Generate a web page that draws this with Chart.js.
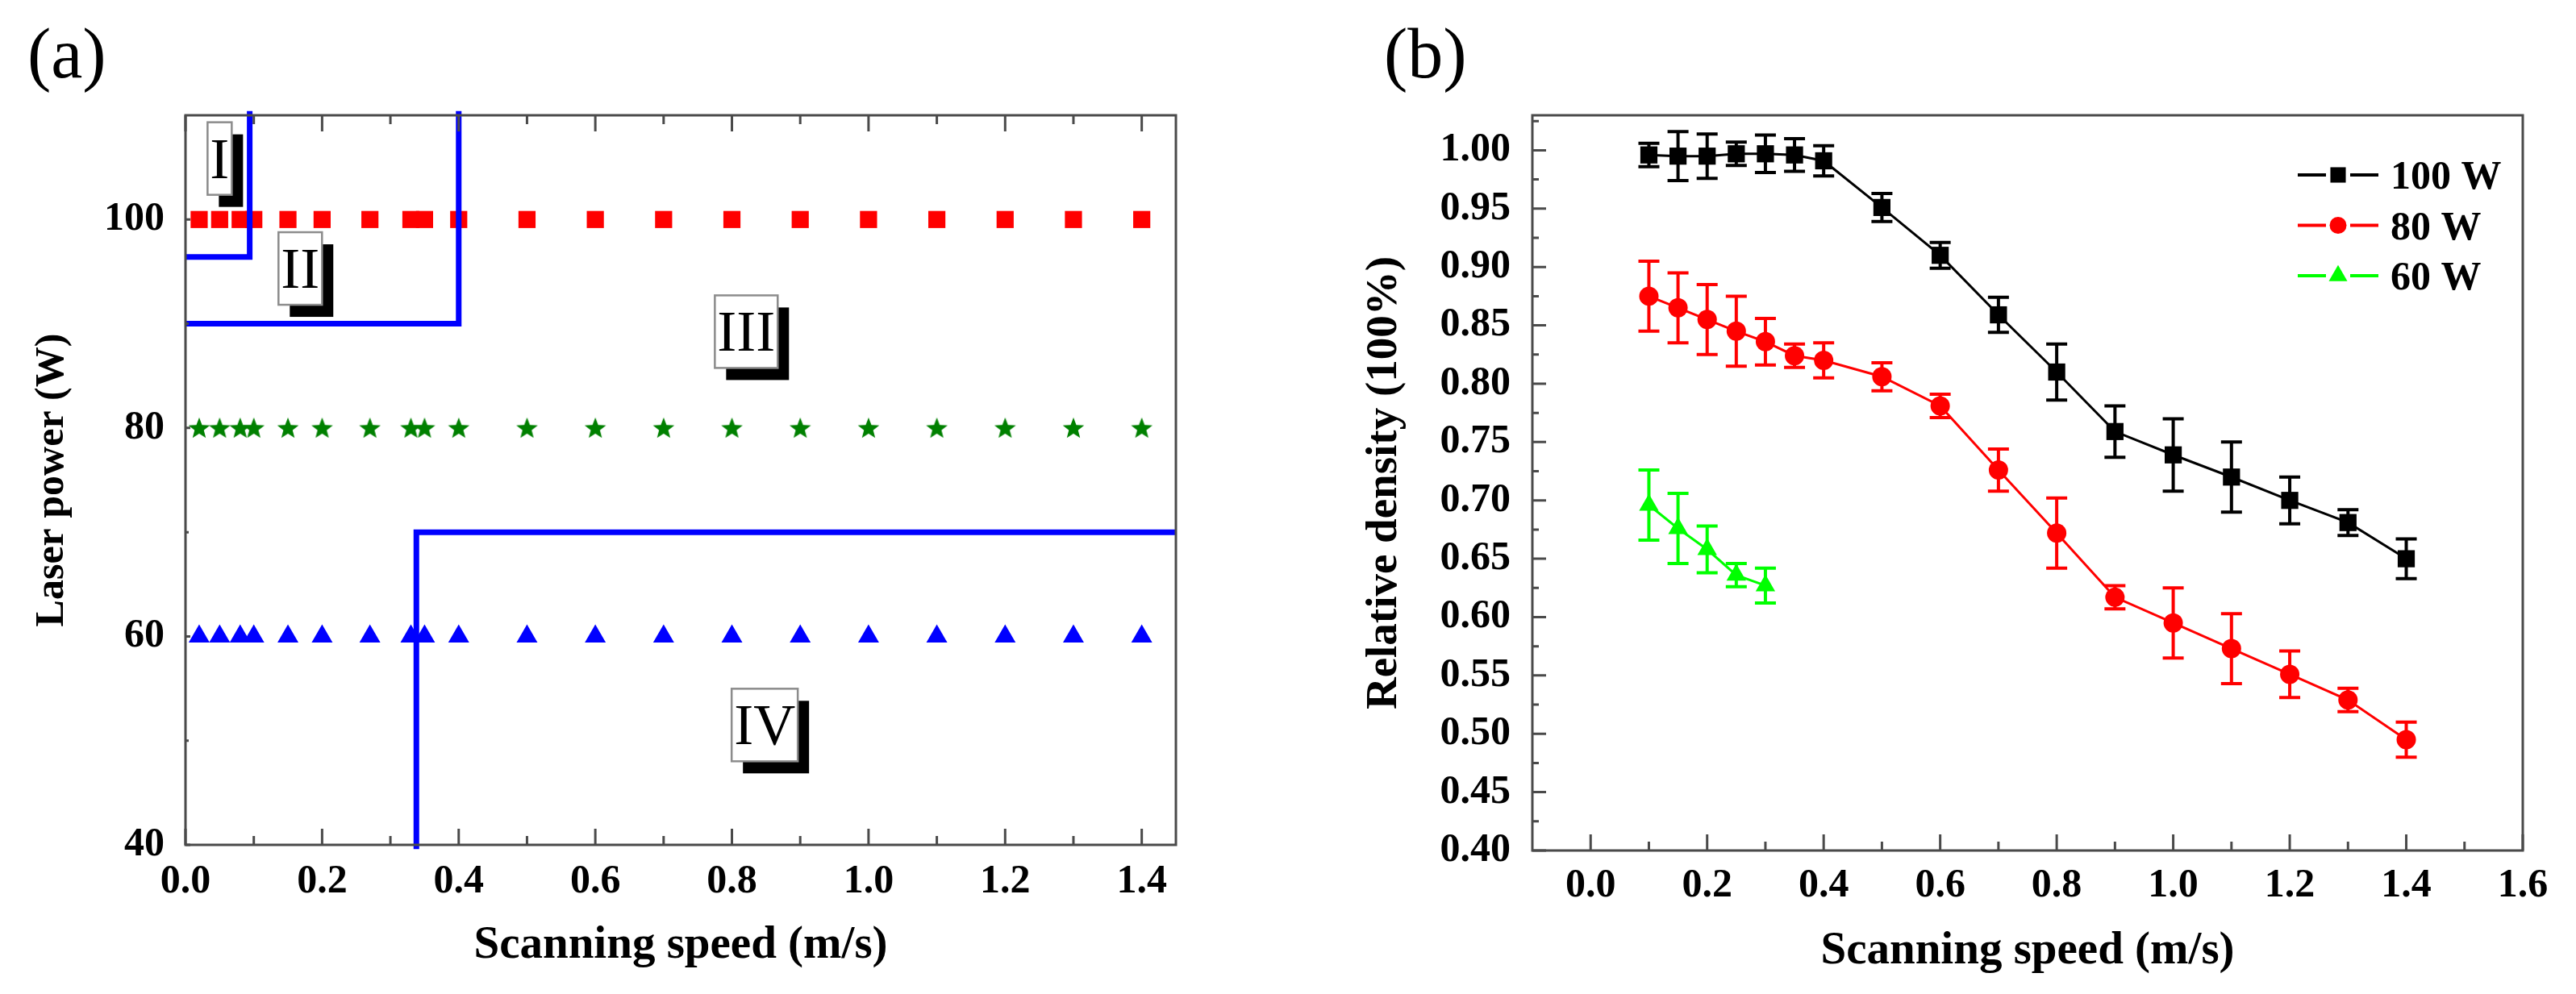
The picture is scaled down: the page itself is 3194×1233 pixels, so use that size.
<!DOCTYPE html>
<html>
<head>
<meta charset="utf-8">
<title>Laser power / relative density vs scanning speed</title>
<script src="https://cdn.jsdelivr.net/npm/chart.js@4.4.1/dist/chart.umd.min.js"></script>
<style>
  html, body { margin: 0; padding: 0; background: #fff; }
  #page { position: relative; width: 3194px; height: 1233px; overflow: hidden; }
  .panel { position: absolute; top: 0; height: 1233px; }
  .tag { position: absolute; font-family: 'Liberation Serif', 'Times New Roman', serif; font-size: 88px; line-height: 1; color: #000; }
</style>
</head>
<body>
<div id="page">
  <div class="panel" style="left:0;width:1580px"><canvas id="chartA" width="1580" height="1233"></canvas></div>
  <div class="panel" style="left:1580px;width:1614px"><canvas id="chartB" width="1614" height="1233"></canvas></div>
  <div class="tag" style="left:34px;top:23px">(a)</div>
  <div class="tag" style="left:1716px;top:23px">(b)</div>
</div>
<script>
// ---- panel (a): process map ----
const speedsA = [0.02, 0.05, 0.08, 0.1, 0.15, 0.2, 0.27, 0.33, 0.35, 0.4, 0.5, 0.6, 0.7, 0.8, 0.9, 1.0, 1.1, 1.2, 1.3, 1.4];
const powersA = [100, 80, 60];
const boundaryIX = [0, 0.094, 0.094];
const boundaryIY = [96.4, 96.4, 110.4];
const boundaryIIX = [0, 0.4, 0.4];
const boundaryIIY = [90, 90, 110.4];
const boundaryIVX = [1.45, 0.338, 0.338];
const boundaryIVY = [70, 70, 39.6];
const regionNames = ['I', 'II', 'III', 'IV'];
const regionX = [0.050, 0.168, 0.821, 0.848];
const regionY = [105.85, 95.3, 89.24, 51.5];
const xTicksA = [0, 0.2, 0.4, 0.6, 0.8, 1.0, 1.2, 1.4];
const yTicksA = [40, 60, 80, 100];

// ---- panel (b): relative density ----
const speedsB = [0.1, 0.15, 0.2, 0.25, 0.3, 0.35, 0.4, 0.5, 0.6, 0.7, 0.8, 0.9, 1.0, 1.1, 1.2, 1.3, 1.4];
const density100 = [0.996, 0.995, 0.995, 0.997, 0.997, 0.996, 0.991, 0.951, 0.910, 0.859, 0.810, 0.759, 0.739, 0.720, 0.700, 0.681, 0.650];
const error100 = [0.010, 0.021, 0.019, 0.010, 0.016, 0.014, 0.013, 0.012, 0.011, 0.015, 0.024, 0.022, 0.031, 0.030, 0.020, 0.011, 0.017];
const density80 = [0.875, 0.865, 0.855, 0.845, 0.836, 0.824, 0.820, 0.806, 0.781, 0.726, 0.672, 0.617, 0.595, 0.573, 0.551, 0.529, 0.495];
const error80 = [0.030, 0.030, 0.030, 0.030, 0.020, 0.010, 0.015, 0.012, 0.010, 0.018, 0.030, 0.010, 0.030, 0.030, 0.020, 0.010, 0.015];
const speeds60 = [0.1, 0.15, 0.2, 0.25, 0.3];
const density60 = [0.696, 0.676, 0.658, 0.636, 0.627];
const error60 = [0.030, 0.030, 0.020, 0.010, 0.015];
const xTicksB = [0, 0.2, 0.4, 0.6, 0.8, 1.0, 1.2, 1.4, 1.6];
const yTicksB = [0.40, 0.45, 0.50, 0.55, 0.60, 0.65, 0.70, 0.75, 0.80, 0.85, 0.90, 0.95, 1.00];

const serif = "'Liberation Serif', 'Times New Roman', serif";
const tickFont = { family: serif, size: 50, weight: 'bold' };
const xTitleFont = { family: serif, size: 57, weight: 'bold' };

function toPoints(xs, ys) {
  return xs.map((x, i) => ({ x: x, y: ys[i] }));
}

// minor ticks halfway between majors, plus one past the end if still on the axis
function minorsOf(majors, max) {
  const out = [];
  for (let i = 0; i < majors.length - 1; i++) out.push((majors[i] + majors[i + 1]) / 2);
  const step = majors[1] - majors[0];
  const extra = majors[majors.length - 1] + step / 2;
  if (extra < max - 1e-9) out.push(extra);
  return out;
}

function starImage(color, outer, inner) {
  const c = document.createElement('canvas');
  c.width = c.height = Math.ceil(outer * 2 + 2);
  const g = c.getContext('2d');
  const m = c.width / 2;
  g.fillStyle = color;
  g.beginPath();
  for (let k = 0; k < 10; k++) {
    const r = k % 2 ? inner : outer;
    const ang = -Math.PI / 2 + k * Math.PI / 5;
    g.lineTo(m + r * Math.cos(ang), m + 1 + r * Math.sin(ang));
  }
  g.closePath();
  g.fill();
  return c;
}

function drawMarker(ctx, style, x, y, r, color) {
  ctx.save();
  ctx.fillStyle = color;
  ctx.beginPath();
  if (style === 'rect') {
    const s = r * Math.SQRT1_2;
    ctx.rect(x - s, y - s, 2 * s, 2 * s);
  } else if (style === 'circle') {
    ctx.arc(x, y, r, 0, Math.PI * 2);
  } else {
    for (let k = 0; k < 3; k++) {
      const a = k * 2 * Math.PI / 3;
      ctx.lineTo(x + Math.sin(a) * r, y - Math.cos(a) * r);
    }
    ctx.closePath();
  }
  ctx.fill();
  ctx.restore();
}

// box frame + inward tick marks
const frameTicks = {
  id: 'frameTicks',
  afterDatasetsDraw(chart, args, o) {
    const { ctx, chartArea: a, scales: { x, y } } = chart;
    ctx.save();
    ctx.strokeStyle = '#4a4a4a';
    ctx.lineWidth = 3;
    ctx.beginPath();
    const xt = (vals, len) => vals.forEach(v => {
      const px = x.getPixelForValue(v);
      ctx.moveTo(px, a.bottom); ctx.lineTo(px, a.bottom - len);
      if (o.mirrorX) { ctx.moveTo(px, a.top); ctx.lineTo(px, a.top + len); }
    });
    const yt = (vals, len) => vals.forEach(v => {
      const py = y.getPixelForValue(v);
      ctx.moveTo(a.left, py); ctx.lineTo(a.left + len, py);
    });
    xt(o.xMajor, o.xLen[0]);
    xt(minorsOf(o.xMajor, x.max), o.xLen[1]);
    yt(o.yMajor, o.yLen[0]);
    yt(minorsOf(o.yMajor, y.max), o.yLen[1]);
    ctx.stroke();
    ctx.strokeRect(a.left, a.top, a.right - a.left, a.bottom - a.top);
    ctx.restore();
  }
};

// boxed roman numerals with drop shadow (panel a)
const regionBoxes = {
  id: 'regionBoxes',
  afterDatasetsDraw(chart) {
    const { ctx, scales: { x, y } } = chart;
    ctx.save();
    ctx.font = '72px ' + serif;
    regionNames.forEach((name, i) => {
      const cx = x.getPixelForValue(regionX[i]);
      const cy = y.getPixelForValue(regionY[i]);
      const w = ctx.measureText(name).width + 6;
      const h = 90;
      const l = cx - w / 2, t = cy - h / 2;
      ctx.fillStyle = '#000';
      ctx.fillRect(l + 14, t + 15, w, h);
      ctx.fillStyle = '#fff';
      ctx.fillRect(l, t, w, h);
      ctx.strokeStyle = '#8c8c8c';
      ctx.lineWidth = 2.5;
      ctx.strokeRect(l, t, w, h);
      ctx.fillStyle = '#000';
      ctx.textAlign = 'center';
      ctx.textBaseline = 'alphabetic';
      ctx.fillText(name, cx, cy + 24);
    });
    ctx.restore();
  }
};

// vertical error bars (panel b)
const errorBars = {
  id: 'errorBars',
  beforeDatasetsDraw(chart) {
    const { ctx, scales: { x, y } } = chart;
    chart.data.datasets.forEach(ds => {
      if (!ds.errors) return;
      ctx.save();
      ctx.strokeStyle = ds.borderColor;
      ctx.lineWidth = 4;
      ctx.beginPath();
      ds.data.forEach((p, j) => {
        const px = x.getPixelForValue(p.x);
        const top = y.getPixelForValue(p.y + ds.errors[j]);
        const bot = y.getPixelForValue(p.y - ds.errors[j]);
        ctx.moveTo(px, top); ctx.lineTo(px, bot);
        ctx.moveTo(px - 13, top); ctx.lineTo(px + 13, top);
        ctx.moveTo(px - 13, bot); ctx.lineTo(px + 13, bot);
      });
      ctx.stroke();
      ctx.restore();
    });
  }
};

// legend inside the plot, top right (panel b)
const insetLegend = {
  id: 'insetLegend',
  afterDraw(chart, args, o) {
    const { ctx, chartArea: a } = chart;
    chart.data.datasets.forEach((ds, i) => {
      const yc = a.top + o.top + i * o.rowGap;
      const x0 = a.right - o.right;
      ctx.save();
      ctx.strokeStyle = ds.borderColor;
      ctx.lineWidth = 4;
      ctx.beginPath();
      ctx.moveTo(x0, yc); ctx.lineTo(x0 + 35, yc);
      ctx.moveTo(x0 + 65, yc); ctx.lineTo(x0 + 100, yc);
      ctx.stroke();
      drawMarker(ctx, ds.pointStyle, x0 + 50, yc, o.markerRadius[i], ds.borderColor);
      ctx.fillStyle = '#000';
      ctx.font = 'bold 50px ' + serif;
      ctx.textAlign = 'left';
      ctx.textBaseline = 'alphabetic';
      ctx.fillText(ds.label, x0 + 115, yc + 17);
      ctx.restore();
    });
  }
};

function boundary(xs, ys) {
  return {
    data: toPoints(xs, ys), showLine: true, borderColor: '#0000ff', borderWidth: 7,
    pointRadius: 0, borderJoinStyle: 'miter', clip: false, order: 0
  };
}

const star = starImage('#008000', 14, 6);

new Chart(document.getElementById('chartA'), {
  type: 'scatter',
  data: {
    datasets: [
      boundary(boundaryIX, boundaryIY),
      boundary(boundaryIIX, boundaryIIY),
      boundary(boundaryIVX, boundaryIVY),
      { data: speedsA.map(x => ({ x: x, y: powersA[0] })), pointStyle: 'rect', pointRadius: 15,
        backgroundColor: '#ff0000', borderColor: '#ff0000', pointBorderWidth: 0, order: 1 },
      { data: speedsA.map(x => ({ x: x, y: powersA[1] })), pointStyle: star, pointRadius: 14,
        backgroundColor: '#008000', borderColor: '#008000', order: 1 },
      { data: speedsA.map(x => ({ x: x, y: powersA[2] })), pointStyle: 'triangle', pointRadius: 15,
        backgroundColor: '#0000ff', borderColor: '#0000ff', pointBorderWidth: 0, order: 1 }
    ]
  },
  options: {
    responsive: false,
    animation: false,
    events: [],
    layout: { padding: { left: 0, top: 143, right: 122, bottom: 0 } },
    plugins: {
      legend: { display: false },
      tooltip: { enabled: false },
      frameTicks: { xMajor: xTicksA, yMajor: yTicksA, xLen: [20, 11], yLen: [6, 4], mirrorX: true }
    },
    scales: {
      x: {
        type: 'linear', min: 0, max: 1.45,
        afterBuildTicks: s => { s.ticks = xTicksA.map(v => ({ value: v })); },
        afterFit: s => { s.height = 185; },
        grid: { display: false, drawTicks: false },
        border: { display: false },
        ticks: { font: tickFont, color: '#000', padding: 16, maxRotation: 0, autoSkip: false, callback: v => v.toFixed(1) },
        title: { display: true, text: 'Scanning speed (m/s)', font: xTitleFont, color: '#000', padding: { top: 0, bottom: 26 } }
      },
      y: {
        type: 'linear', min: 40, max: 110,
        afterBuildTicks: s => { s.ticks = yTicksA.map(v => ({ value: v })); },
        afterFit: s => { s.width = 230; },
        grid: { display: false, drawTicks: false },
        border: { display: false },
        ticks: { font: tickFont, color: '#000', padding: 26, autoSkip: false, callback: v => String(v) },
        title: { display: true, text: 'Laser power (W)', font: { family: serif, size: 50, weight: 'bold' }, color: '#000', padding: { top: 35, bottom: 0 } }
      }
    }
  },
  plugins: [regionBoxes, frameTicks]
});

new Chart(document.getElementById('chartB'), {
  type: 'scatter',
  data: {
    datasets: [
      { label: '100 W', data: toPoints(speedsB, density100), errors: error100, showLine: true,
        borderColor: '#000000', backgroundColor: '#000000', borderWidth: 3,
        pointStyle: 'rect', pointRadius: 15, pointBorderWidth: 0 },
      { label: '80 W', data: toPoints(speedsB, density80), errors: error80, showLine: true,
        borderColor: '#ff0000', backgroundColor: '#ff0000', borderWidth: 3,
        pointStyle: 'circle', pointRadius: 12, pointBorderWidth: 0 },
      { label: '60 W', data: toPoints(speeds60, density60), errors: error60, showLine: true,
        borderColor: '#00ff00', backgroundColor: '#00ff00', borderWidth: 3,
        pointStyle: 'triangle', pointRadius: 14, pointBorderWidth: 0 }
    ]
  },
  options: {
    responsive: false,
    animation: false,
    events: [],
    layout: { padding: { left: 0, top: 143, right: 66, bottom: 0 } },
    plugins: {
      legend: { display: false },
      tooltip: { enabled: false },
      frameTicks: { xMajor: xTicksB, yMajor: yTicksB, xLen: [20, 11], yLen: [17, 8], mirrorX: false },
      insetLegend: { top: 74, rowGap: 62.5, right: 279, markerRadius: [13.5, 10.5, 13.3] }
    },
    scales: {
      x: {
        type: 'linear', min: -0.1, max: 1.6,
        afterBuildTicks: s => { s.ticks = xTicksB.map(v => ({ value: v })); },
        afterFit: s => { s.height = 178; },
        grid: { display: false, drawTicks: false },
        border: { display: false },
        ticks: { font: tickFont, color: '#000', padding: 14, maxRotation: 0, autoSkip: false, callback: v => v.toFixed(1) },
        title: { display: true, text: 'Scanning speed (m/s)', font: xTitleFont, color: '#000', padding: { top: 0, bottom: 19 } }
      },
      y: {
        type: 'linear', min: 0.4, max: 1.03,
        afterBuildTicks: s => { s.ticks = yTicksB.map(v => ({ value: v })); },
        afterFit: s => { s.width = 320; },
        grid: { display: false, drawTicks: false },
        border: { display: false },
        ticks: { font: tickFont, color: '#000', padding: 27, autoSkip: false, callback: v => v.toFixed(2) },
        title: { display: true, text: 'Relative density (100%)', font: { family: serif, size: 55, weight: 'bold' }, color: '#000', padding: { top: 104, bottom: 0 } }
      }
    }
  },
  plugins: [errorBars, frameTicks, insetLegend]
});
</script>
</body>
</html>
